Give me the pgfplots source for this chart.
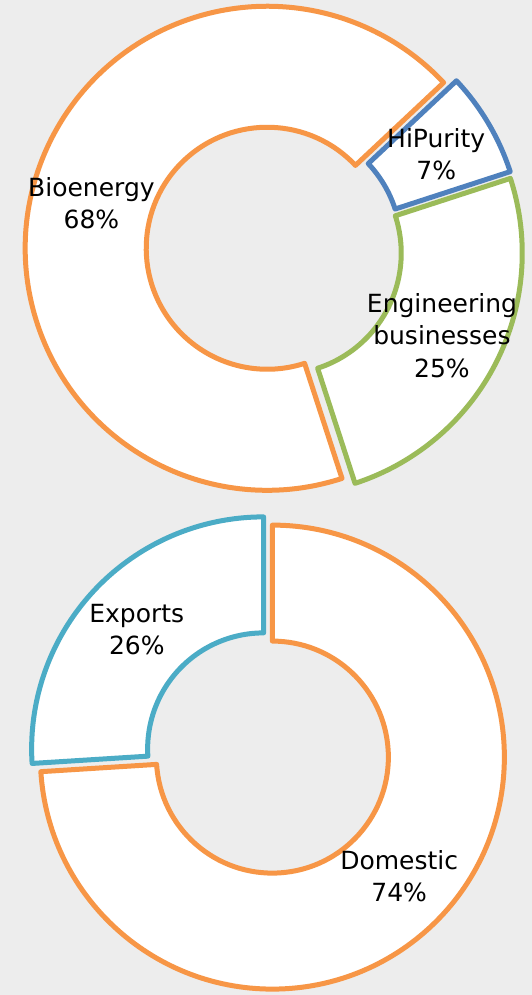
\documentclass[border=0pt]{standalone}
\usepackage{pgfplots}
\pgfplotsset{compat=1.18}
\usepackage{fontspec}
\setmainfont{DejaVu Sans}
\definecolor{orng}{HTML}{F79646}
\definecolor{blu}{HTML}{4F81BD}
\definecolor{grn}{HTML}{9BBB59}
\definecolor{teal}{HTML}{4BACC6}
\definecolor{bg}{HTML}{EDEDED}
\newcommand\labelfont{\fontsize{25}{32.5}\selectfont}
% running angle, clockwise from 12 o'clock
\newcommand\donutstart[1]{\xdef\cumang{#1}}
% #1 cx, #2 cy, #3 outer R, #4 inner r, #5 explosion, #6 value (%), #7 colour, #8 label
\newcommand\sector[8]{%
  \pgfmathsetmacro\aone{90-\cumang}%
  \pgfmathsetmacro\atwo{90-\cumang-3.6*#6}%
  \pgfmathsetmacro\bis{(\aone+\atwo)/2}%
  \pgfmathsetmacro\ccx{#1+#5*cos(\bis)}%
  \pgfmathsetmacro\ccy{#2+#5*sin(\bis)}%
  \pgfmathsetmacro\xa{\ccx+#3*cos(\aone)}%
  \pgfmathsetmacro\ya{\ccy+#3*sin(\aone)}%
  \pgfmathsetmacro\xb{\ccx+#4*cos(\atwo)}%
  \pgfmathsetmacro\yb{\ccy+#4*sin(\atwo)}%
  \pgfmathsetmacro\lx{\ccx+(#3+#4)/2*cos(\bis)}%
  \pgfmathsetmacro\ly{\ccy+(#3+#4)/2*sin(\bis)}%
  \edef\doit{\noexpand\draw[#7, line width=5pt, fill=white, line join=round]
     (axis cs:\xa,\ya) arc[start angle=\aone, end angle=\atwo, radius=#3pt]
     -- (axis cs:\xb,\yb) arc[start angle=\atwo, end angle=\aone, radius=#4pt] -- cycle;
     \noexpand\node[align=center, text=black, font=\noexpand\labelfont, inner sep=0pt]
     at (axis cs:\lx,\ly) {\unexpanded{#8}\noexpand\\#6\noexpand\%};}%
  \doit
  \pgfmathsetmacro\tmp{\cumang+3.6*#6}\xdef\cumang{\tmp}%
}
\begin{document}
\begin{tikzpicture}
\begin{axis}[name=ax, width=532pt, height=995pt, scale only axis,
  xmin=0, xmax=532, ymin=0, ymax=995, hide axis, clip=false,
  axis background/.style={fill=bg}]
% top doughnut: Bioenergy 68, HiPurity 7, Engineering businesses 25
\donutstart{162}
\sector{274}{745}{242}{121}{7}{68}{orng}{Bioenergy}
\sector{274}{745}{242}{121}{7}{7}{blu}{HiPurity}
\sector{274}{745}{242}{121}{7}{25}{grn}{Engineering\\businesses}
% bottom doughnut: Domestic 74, Exports 26
\donutstart{0}
\sector{268}{242}{232}{116}{6}{74}{orng}{Domestic}
\sector{268}{242}{232}{116}{6}{26}{teal}{Exports}
\end{axis}
\pgfresetboundingbox
\useasboundingbox (ax.south west) rectangle (ax.north east);
\end{tikzpicture}
\end{document}
